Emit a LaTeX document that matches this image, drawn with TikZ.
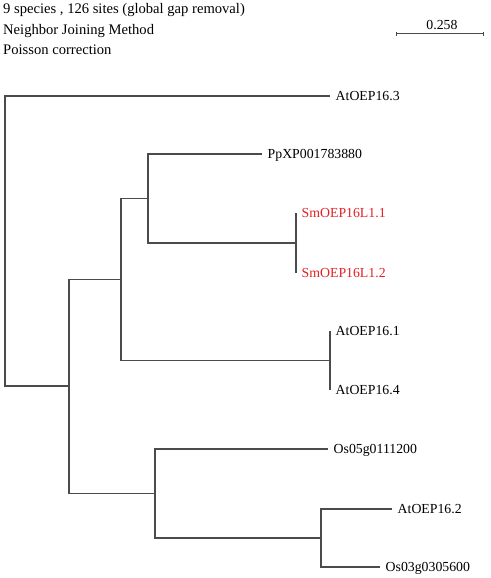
\documentclass[tikz,border=0pt]{standalone}
\usepackage{fontspec}
\setmainfont{Liberation Serif}
\definecolor{smred}{RGB}{228,32,36}
\definecolor{brgray}{RGB}{75,75,75}
\begin{document}
\begin{tikzpicture}[x=1pt,y=-1pt,
  br/.style={draw=brgray, line width=1.3pt},
  leaf/.style={anchor=base west, inner sep=0pt, xshift=5.5pt, yshift=-4.6pt,
    font=\fontsize{13.8}{16}\selectfont},
  hl/.style={text=smred},
  head/.style={anchor=base west, inner sep=0pt, font=\fontsize{14.6}{17}\selectfont}]
\useasboundingbox (0,0) rectangle (490,578);
% header
\node[head] (h1) at (3,14) {9 species , 126 sites (global gap removal)};
\node[head] (h2) at (3,35) {Neighbor Joining Method};
\node[head] (h3) at (3,55) {Poisson correction};
% scale bar
\coordinate (sbl) at (396,34);
\coordinate (sbr) at (483,34);
\draw[br, line width=1pt] (sbl) -- (sbr);
\draw[br, line width=1pt] ([yshift=2pt]sbl) -- ([yshift=-2pt]sbl);
\draw[br, line width=1pt] ([yshift=2pt]sbr) -- ([yshift=-2pt]sbr);
\node[anchor=base, inner sep=0pt, font=\fontsize{13.8}{16}\selectfont] (sblab) at (442,30) {0.258};
% internal nodes
\coordinate (root) at (5,240.5);
\coordinate (n1) at (69,386);
\coordinate (n2) at (121,279.5);
\coordinate (n3) at (148,198.5);
\coordinate (nsm) at (296,243);
\coordinate (n4) at (330,360.5);
\coordinate (n5) at (155,493.5);
\coordinate (n6) at (321,538);
% leaf tips
\coordinate (ta3) at (330,96);
\coordinate (tpp) at (262,154);
\coordinate (tsm1) at (296,213);
\coordinate (tsm2) at (296,273);
\coordinate (ta1) at (330,331);
\coordinate (ta4) at (330,390);
\coordinate (tos5) at (328,449);
\coordinate (ta2) at (392,509);
\coordinate (tos3) at (380,567);
% labels
\node[leaf] (a3) at (ta3) {AtOEP16.3};
\node[leaf] (pp) at (tpp) {PpXP001783880};
\node[leaf,hl] (sm1) at (tsm1) {SmOEP16L1.1};
\node[leaf,hl] (sm2) at (tsm2) {SmOEP16L1.2};
\node[leaf] (a1) at (ta1) {AtOEP16.1};
\node[leaf] (a4) at (ta4) {AtOEP16.4};
\node[leaf] (os5) at (tos5) {Os05g0111200};
\node[leaf] (a2) at (ta2) {AtOEP16.2};
\node[leaf] (os3) at (tos3) {Os03g0305600};
% branches
\draw[br] (ta3) -| (root) |- (n1);
\draw[br] (n2) -| (n1) |- (n5);
\draw[br] (n3) -| (n2) |- (n4);
\draw[br] (tpp) -| (n3) |- (nsm);
\draw[br] (tsm1) -- (tsm2);
\draw[br] (ta1) -- (ta4);
\draw[br] (tos5) -| (n5) |- (n6);
\draw[br] (ta2) -| (n6) |- (tos3);
\end{tikzpicture}
\end{document}
